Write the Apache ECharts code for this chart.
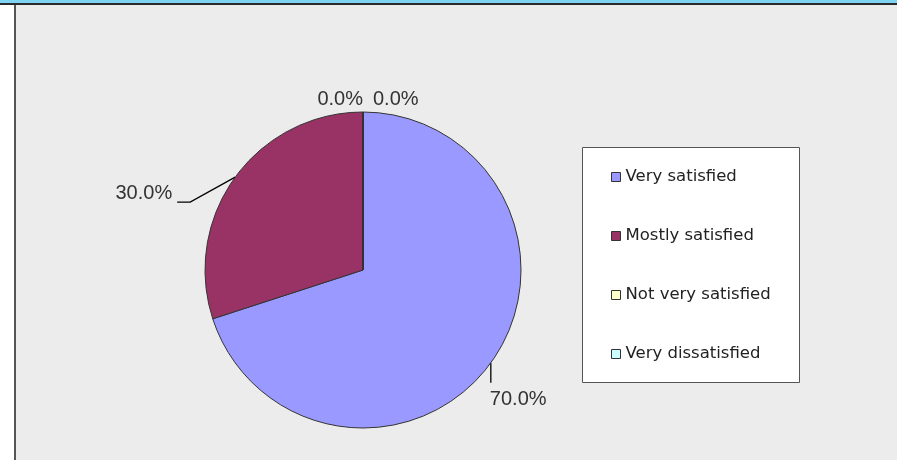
<!DOCTYPE html>
<html>
<head>
<meta charset="utf-8">
<script src="https://cdn.jsdelivr.net/npm/echarts@6/dist/echarts.min.js"></script>
<style>
html,body{margin:0;padding:0;background:#fff;}
#c{width:897px;height:460px;}
</style>
</head>
<body>
<div id="c"></div>
<script>
var categories = ["Very satisfied", "Mostly satisfied", "Not very satisfied", "Very dissatisfied"];
var values = [70, 30, 0, 0];
var colors = ["#9999ff", "#993366", "#ffffcc", "#ccffff"];

var total = values.reduce(function (a, b) { return a + b; }, 0);
var data = categories.map(function (name, i) {
  return {
    name: name,
    value: values[i],
    itemStyle: { color: colors[i] },
    labelLine: { show: values[i] > 0 }
  };
});

var chart = echarts.init(document.getElementById('c'), null, { renderer: 'canvas' });
chart.setOption({
  backgroundColor: '#ffffff',
  animation: false,
  graphic: [
    { type: 'rect', z: -10, shape: { x: 0, y: 0, width: 897, height: 3 }, style: { fill: '#7fd3f3' } },
    { type: 'rect', z: -10, shape: { x: 0, y: 3, width: 897, height: 2 }, style: { fill: '#2a2a2a' } },
    { type: 'rect', z: -10, shape: { x: 14, y: 5, width: 2, height: 455 }, style: { fill: '#555555' } },
    { type: 'rect', z: -10, shape: { x: 16, y: 5, width: 881, height: 455 }, style: { fill: '#ececec' } },
    { type: 'rect', z: -5, shape: { x: 582.5, y: 147.5, width: 217, height: 235 }, style: { fill: '#ffffff', stroke: '#555555', lineWidth: 1 } }
  ],
  legend: {
    orient: 'vertical',
    left: 611,
    top: 168,
    padding: 0,
    itemGap: 41,
    itemWidth: 9,
    itemHeight: 9,
    icon: 'rect',
    itemStyle: { borderColor: '#333333', borderWidth: 1 },
    textStyle: { fontFamily: 'DejaVu Sans', fontSize: 16.5, color: '#222222', lineHeight: 18 },
    data: categories
  },
  series: [{
    type: 'pie',
    center: [363, 270],
    radius: 158,
    startAngle: 90,
    clockwise: true,
    avoidLabelOverlap: false,
    stillShowZeroSum: true,
    itemStyle: { borderColor: '#333333', borderWidth: 1 },
    emphasis: { disabled: true },
    label: {
      show: true,
      position: 'outside',
      fontFamily: 'Liberation Sans',
      fontSize: 20,
      color: '#333333',
      formatter: function (p) { return (total ? p.value / total * 100 : 0).toFixed(1) + '%'; }
    },
    labelLine: { show: true, lineStyle: { color: '#000000', width: 1.3 } },
    labelLayout: function (params) {
      var pts = params.labelLinePoints;
      var p0 = pts ? pts[0] : [363, 112];
      var i = params.dataIndex;
      if (i === 0) {
        return {
          x: p0[0] - 1, y: p0[1] + 37, align: 'left', verticalAlign: 'middle',
          labelLinePoints: [[p0[0], p0[1]], [p0[0], p0[1] + 20], [p0[0], p0[1] + 20]]
        };
      } else if (i === 1) {
        return {
          x: p0[0] - 63, y: p0[1] + 16, align: 'right', verticalAlign: 'middle',
          labelLinePoints: [[p0[0], p0[1]], [p0[0] - 45, p0[1] + 25], [p0[0] - 58, p0[1] + 25]]
        };
      } else if (i === 2) {
        return { x: p0[0], y: p0[1] - 13, align: 'right', verticalAlign: 'middle' };
      } else {
        return { x: p0[0] + 10, y: p0[1] - 13, align: 'left', verticalAlign: 'middle' };
      }
    },
    data: data
  }]
});
</script>
</body>
</html>
